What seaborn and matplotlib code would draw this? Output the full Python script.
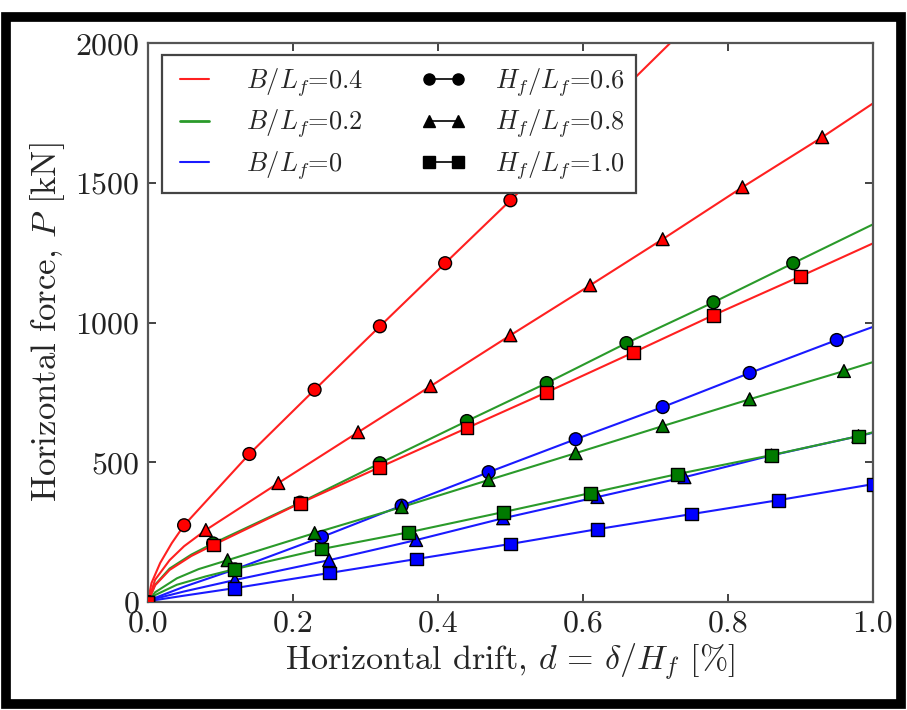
import numpy as np
import pandas as pd
import seaborn as sns
import matplotlib
matplotlib.use("Agg")
import matplotlib.pyplot as plt
from matplotlib.lines import Line2D
from matplotlib.patches import Rectangle

# ---------------- data ----------------
# marker points: (B/Lf, Hf/Lf) -> x (drift %), y (force kN)
b04_h06_x = [0.0, 0.05, 0.14, 0.23, 0.32, 0.41, 0.50]
b04_h06_y = [0, 275, 530, 760, 987, 1213, 1438]
b04_h08_x = [0.0, 0.08, 0.18, 0.29, 0.39, 0.50, 0.61, 0.71, 0.82, 0.93]
b04_h08_y = [0, 258, 426, 608, 773, 955, 1134, 1299, 1485, 1664]
b04_h10_x = [0.0, 0.09, 0.21, 0.32, 0.44, 0.55, 0.67, 0.78, 0.90]
b04_h10_y = [0, 204, 354, 483, 623, 751, 894, 1027, 1166]
b02_h06_x = [0.0, 0.09, 0.21, 0.32, 0.44, 0.55, 0.66, 0.78, 0.89]
b02_h06_y = [0, 210, 356, 497, 648, 784, 927, 1073, 1213]
b02_h08_x = [0.0, 0.11, 0.23, 0.35, 0.47, 0.59, 0.71, 0.83, 0.96]
b02_h08_y = [0, 150, 247, 340, 437, 533, 630, 726, 827]
b02_h10_x = [0.0, 0.12, 0.24, 0.36, 0.49, 0.61, 0.73, 0.86, 0.98]
b02_h10_y = [0, 118, 190, 250, 322, 390, 458, 526, 594]
b00_h06_x = [0.0, 0.12, 0.24, 0.35, 0.47, 0.59, 0.71, 0.83, 0.95]
b00_h06_y = [0, 117, 233, 345, 465, 583, 698, 820, 938]
b00_h08_x = [0.0, 0.12, 0.25, 0.37, 0.49, 0.62, 0.74, 0.86, 0.98]
b00_h08_y = [0, 79, 150, 222, 300, 376, 447, 525, 594]
b00_h10_x = [0.0, 0.12, 0.25, 0.37, 0.50, 0.62, 0.75, 0.87, 1.00]
b00_h10_y = [0, 50, 104, 154, 208, 261, 315, 365, 422]

# extra curve points read near the origin and at the right edge
b04_h06_cx = [0.005, 0.017, 0.033, 0.72]
b04_h06_cy = [68, 140, 211, 2000]
b04_h08_cx = [0.01, 0.03, 0.05, 1.0]
b04_h08_cy = [80, 150, 200, 1785]
b04_h10_cx = [0.01, 0.03, 0.06, 1.0]
b04_h10_cy = [60, 115, 165, 1284]
b02_h06_cx = [0.01, 0.03, 0.06, 1.0]
b02_h06_cy = [62, 120, 170, 1352]
b02_h08_cx = [0.01, 0.04, 0.07, 1.0]
b02_h08_cy = [35, 85, 118, 859]
b02_h10_cx = [0.01, 0.04, 0.08, 1.0]
b02_h10_cy = [25, 62, 92, 608]
b00_h06_cx = [0.01, 0.05, 1.0]
b00_h06_cy = [15, 55, 985]
b00_h08_cx = [0.01, 0.05, 1.0]
b00_h08_cy = [12, 38, 606]
b00_h10_cx = [0.01, 0.05, 1.0]
b00_h10_cy = [7, 23, 422]

b_labels = ["0", "0.2", "0.4"]          # drawing order: blue, green, red
h_labels = ["0.6", "0.8", "1.0"]
x_ticks = [0.0, 0.2, 0.4, 0.6, 0.8, 1.0]
y_ticks = [0, 500, 1000, 1500, 2000]

series = {
    ("0", "0.6"): (b00_h06_x, b00_h06_y, b00_h06_cx, b00_h06_cy),
    ("0", "0.8"): (b00_h08_x, b00_h08_y, b00_h08_cx, b00_h08_cy),
    ("0", "1.0"): (b00_h10_x, b00_h10_y, b00_h10_cx, b00_h10_cy),
    ("0.2", "0.6"): (b02_h06_x, b02_h06_y, b02_h06_cx, b02_h06_cy),
    ("0.2", "0.8"): (b02_h08_x, b02_h08_y, b02_h08_cx, b02_h08_cy),
    ("0.2", "1.0"): (b02_h10_x, b02_h10_y, b02_h10_cx, b02_h10_cy),
    ("0.4", "0.6"): (b04_h06_x, b04_h06_y, b04_h06_cx, b04_h06_cy),
    ("0.4", "0.8"): (b04_h08_x, b04_h08_y, b04_h08_cx, b04_h08_cy),
    ("0.4", "1.0"): (b04_h10_x, b04_h10_y, b04_h10_cx, b04_h10_cy),
}

line_rows, mark_rows = [], []
for (b, h), (mx, my, cx, cy) in series.items():
    pts = sorted(list(zip(mx, my)) + list(zip(cx, cy)))
    for px, py in pts:
        line_rows.append({"B": b, "H": h, "id": b + "_" + h, "x": px, "y": py})
    for px, py in zip(mx, my):
        mark_rows.append({"B": b, "H": h, "x": px, "y": py})
lines_df = pd.DataFrame(line_rows)
marks_df = pd.DataFrame(mark_rows)

# ---------------- style ----------------
sns.set_style("ticks")
plt.rcParams["font.family"] = ["cmr10", "DejaVu Serif"]
plt.rcParams["mathtext.fontset"] = "cm"
plt.rcParams["axes.formatter.use_mathtext"] = True
plt.rcParams["axes.unicode_minus"] = False

line_pal = {"0.4": "#ff2020", "0.2": "#2a9a2a", "0": "#1a1aff"}
fill_pal = {"0.4": "#ff0000", "0.2": "#007a00", "0": "#0000ff"}
mark_map = {"0.6": "o", "0.8": "^", "1.0": "s"}

fig = plt.figure(figsize=(9.07, 7.10), dpi=100)
ax = fig.add_axes([0.163, 0.152, 0.7995, 0.787])

sns.lineplot(data=lines_df, x="x", y="y", hue="B", units="id", estimator=None,
             sort=False, palette=line_pal, hue_order=b_labels, lw=1.5,
             legend=False, ax=ax)
sns.scatterplot(data=marks_df, x="x", y="y", hue="B", style="H",
                palette=fill_pal, markers=mark_map, hue_order=b_labels,
                style_order=h_labels, s=85, edgecolor="black", linewidth=1.0,
                legend=False, ax=ax, zorder=3, clip_on=True)

ax.set_xlim(0, 1.0)
ax.set_ylim(0, 2000)
ax.set_xticks(x_ticks)
ax.set_yticks(y_ticks)
ax.set_xticklabels([f"{v:.1f}" for v in x_ticks])
ax.set_yticklabels([str(v) for v in y_ticks])
ax.tick_params(direction="in", length=6, width=1.2, top=True, right=True,
               labelsize=23, colors="#222222", pad=6)
for sp in ax.spines.values():
    sp.set_color("#555555")
    sp.set_linewidth(1.6)
ax.set_xlabel(r"Horizontal drift, $d\,=\,\delta/H_f$ [%]", fontsize=24.5, labelpad=2)
ax.set_ylabel(r"Horizontal force, $P$ [kN]", fontsize=25, labelpad=6)

handles = [
    Line2D([], [], color=line_pal["0.4"], lw=1.5),
    Line2D([], [], color=line_pal["0.2"], lw=2.0),
    Line2D([], [], color=line_pal["0"], lw=1.5),
    Line2D([], [], color="black", marker="o", markersize=8, lw=1.2),
    Line2D([], [], color="black", marker="^", markersize=8, lw=1.2),
    Line2D([], [], color="black", marker="s", markersize=8, lw=1.2),
]
labels = [r"$B/L_f$=0.4", r"$B/L_f$=0.2", r"$B/L_f$=0",
          r"$H_f/L_f$=0.6", r"$H_f/L_f$=0.8", r"$H_f/L_f$=1.0"]
leg = ax.legend(handles, labels, ncol=2, loc="upper left", fontsize=19,
                frameon=True, fancybox=False, edgecolor="#444444",
                numpoints=2, handlelength=1.7, columnspacing=2.2,
                labelspacing=0.33, borderpad=0.4, handletextpad=1.1,
                borderaxespad=0.0, bbox_to_anchor=(0.019, 0.979))
leg.get_frame().set_linewidth(1.6)
leg.get_frame().set_alpha(1.0)

# black border around the figure
fig.patches.append(Rectangle((0.007, 0.008), 0.986, 0.968, transform=fig.transFigure,
                             fill=False, edgecolor="black", lw=7, zorder=10))

fig.savefig("out.png", dpi=100)
